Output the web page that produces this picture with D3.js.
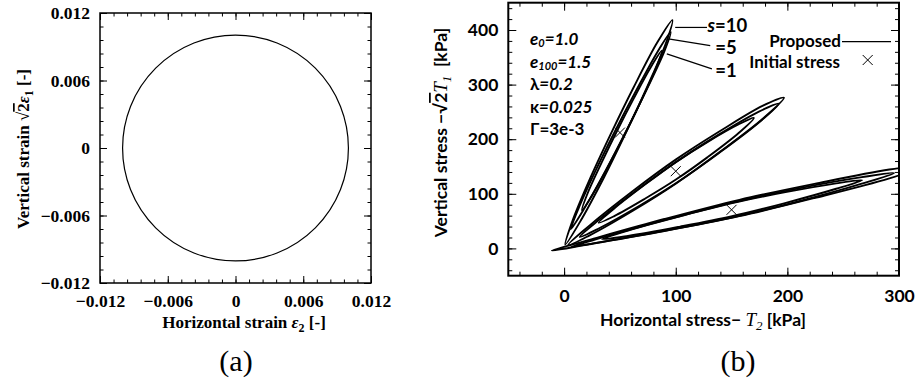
<!DOCTYPE html>
<html><head><meta charset="utf-8">
<script src="https://cdn.jsdelivr.net/npm/d3@7"></script>
<style>
body{margin:0;background:#fff;}
svg{display:block;}
</style></head><body>
<svg id="c" width="918" height="385"></svg>
<script>
// ---------------- data ----------------
// panel (a): strain path
const strainTicks = [-0.012, -0.006, 0, 0.006, 0.012];
const strainTickLabels = ["\u22120.012", "\u22120.006", "0", "0.006", "0.012"];
const strainCircleCenter = [0, 0];
const strainCircleRadius = 0.01;

// panel (b): stress paths
const stressXTicks = [0, 100, 200, 300];
const stressYTicks = [0, 100, 200, 300, 400];
const initialStress = [[50, 212.1], [100, 141.4], [150, 70.7]];
const loopLabels = ["10", "=5", "=1"];
const paramLines = ["e0=1.0", "e100=1.5", "\u03bb=0.2", "\u03ba=0.025", "\u0393=3e-3"];

// steep group (initial stress 50, 212)
const loopSteepS10 = [[1,7],[7.1,48.1],[23.8,130.3],[42.5,212.5],[62.2,294.7],[83.4,376.9],[97,418],[91.4,376.9],[74.2,294.7],[55.5,212.5],[35.8,130.3],[14.1,48.1]];
const loopSteepS5  = [[6,35],[12.5,71.1],[28.4,143.3],[45.8,215.5],[64.2,287.7],[83.6,359.9],[95.5,396],[89.6,359.9],[73.2,287.7],[55.8,215.5],[37.4,143.3],[17.5,71.1]];
const loopSteepS1  = [[16,70],[20.7,99.2],[33.7,157.6],[47.6,216],[62.3,274.4],[77.9,332.8],[87.5,362],[82.9,332.8],[69.9,274.4],[56,216],[41.3,157.6],[25.7,99.2]];
// middle group (initial stress 100, 141)
const loopMidS10 = [[3.6,6],[22.9,42],[61.6,105],[100.3,163],[139,214],[177.7,261],[197,276],[177.7,237],[139,176],[100.3,119],[61.6,69],[22.9,24]];
const loopMidS5  = [[14,21],[31.8,53.4],[67.5,110.2],[103.2,162.5],[138.8,208.8],[174.5,250.6],[192.3,265],[174.5,230.6],[138.8,174.8],[103.2,123.5],[67.5,78.2],[31.8,37.4]];
const loopMidS1  = [[31,47],[44.9,73.1],[72.7,117.3],[100.5,158.5],[128.3,194.7],[156.1,226.9],[170,239],[156.1,210.9],[128.3,166.7],[100.5,126.5],[72.7,91.3],[44.9,59.1]];
// flat group (initial stress 150, 71)
const loopFlatS10 = [[-11,-4],[22.6,15.6],[89.8,53.8],[157,89],[224.2,118.2],[291.4,144.4],[325,152],[291.4,128.4],[224.2,92.2],[157,59],[89.8,31.8],[22.6,7.6]];
const loopFlatS5  = [[6.6,3],[35.5,20.5],[93.3,53.5],[151.1,84],[208.9,109.5],[266.7,130.5],[295.6,138],[266.7,118.5],[208.9,85.5],[151.1,57],[93.3,33.5],[35.5,12.5]];
const loopFlatS1  = [[34,17],[57.3,32.8],[103.9,58.9],[150.5,83],[197.1,102.6],[243.7,119.2],[267,125],[243.7,109.2],[197.1,82.6],[150.5,59],[103.9,39.9],[57.3,22.8]];

const allLoops = [loopSteepS10, loopSteepS5, loopSteepS1, loopMidS10, loopMidS5, loopMidS1, loopFlatS10, loopFlatS5, loopFlatS1];

// ---------------- drawing ----------------
const svg = d3.select("#c");
const serif = "'Liberation Serif','DejaVu Serif',serif";
const sans = "Lato,'Open Sans','Noto Sans',sans-serif";

function frameTicks(g, x, y, majX, majY, minX, minY, len, minLen) {
  const [x0, x1] = x.range(); const [y0, y1] = y.range();
  const mk = (axis, tr, vals, l) => {
    const a = g.append("g").attr("transform", tr)
      .call(axis.tickValues(vals).tickFormat("").tickSizeInner(-l).tickSizeOuter(0));
    a.select(".domain").remove();
    a.selectAll("line").attr("stroke", "#000").attr("stroke-width", 1);
  };
  mk(d3.axisBottom(x), `translate(0,${y0})`, majX, len);
  mk(d3.axisBottom(x), `translate(0,${y0})`, minX, minLen);
  mk(d3.axisTop(x), `translate(0,${y1})`, majX, len);
  mk(d3.axisTop(x), `translate(0,${y1})`, minX, minLen);
  mk(d3.axisLeft(y), `translate(${x0},0)`, majY, len);
  mk(d3.axisLeft(y), `translate(${x0},0)`, minY, minLen);
  mk(d3.axisRight(y), `translate(${x1},0)`, majY, len);
  mk(d3.axisRight(y), `translate(${x1},0)`, minY, minLen);
}

// ---- Panel (a)
const ax = d3.scaleLinear().domain([-0.012, 0.012]).range([100, 371]);
const ay = d3.scaleLinear().domain([-0.012, 0.012]).range([283, 13]);
const gA = svg.append("g");
const minorA = d3.range(-10, 11).map(i => +(i * 0.0012).toFixed(5));
frameTicks(gA, ax, ay, strainTicks, strainTicks, minorA, minorA, 7, 3.5);

gA.append("rect").attr("x", ax(-0.012)).attr("y", ay(0.012))
  .attr("width", ax(0.012) - ax(-0.012)).attr("height", ay(-0.012) - ay(0.012))
  .attr("fill", "none").attr("stroke", "#000").attr("stroke-width", 1.5);

gA.append("circle").attr("cx", ax(strainCircleCenter[0])).attr("cy", ay(strainCircleCenter[1]))
  .attr("r", ax(strainCircleRadius) - ax(0))
  .attr("fill", "none").attr("stroke", "#000").attr("stroke-width", 1.2);

const axBot = gA.append("g").attr("transform", "translate(0,283)")
  .call(d3.axisBottom(ax).tickValues(strainTicks).tickFormat((d, i) => strainTickLabels[i]).tickSize(0).tickPadding(12));
const axLeft = gA.append("g").attr("transform", "translate(100,0)")
  .call(d3.axisLeft(ay).tickValues(strainTicks).tickFormat((d, i) => strainTickLabels[i]).tickSize(0).tickPadding(10));
[axBot, axLeft].forEach(a => {
  a.select(".domain").remove();
  a.selectAll("text").attr("font-family", serif).attr("font-size", 17.5).attr("font-weight", "bold").attr("fill", "#000");
});

const tA = gA.append("text").attr("x", 244).attr("y", 328).attr("text-anchor", "middle")
  .attr("font-family", serif).attr("font-size", 17).attr("font-weight", "bold");
tA.append("tspan").text("Horizontal strain ");
tA.append("tspan").attr("font-style", "italic").text("\u03b5");
tA.append("tspan").attr("font-size", 12).attr("dy", 4).text("2");
tA.append("tspan").attr("dy", -4).text(" [-]");

const tAy = gA.append("text").attr("transform", "translate(29,149) rotate(-90)").attr("text-anchor", "middle")
  .attr("font-family", serif).attr("font-size", 17).attr("font-weight", "bold");
tAy.append("tspan").text("Vertical strain \u221a");
tAy.append("tspan").attr("text-decoration", "overline").text("2");
tAy.append("tspan").attr("font-style", "italic").text("\u03b5");
tAy.append("tspan").attr("font-size", 12).attr("dy", 4).text("1");
tAy.append("tspan").attr("dy", -4).text(" [-]");

gA.append("text").attr("x", 236).attr("y", 371).attr("text-anchor", "middle")
  .attr("font-family", serif).attr("font-size", 30).text("(a)");

// ---- Panel (b)
const bx = d3.scaleLinear().domain([-50, 300]).range([508.3, 899]);
const by = d3.scaleLinear().domain([-50, 450]).range([275.7, 2.7]);
const gB = svg.append("g");
const minorBX = d3.range(-2, 16).map(i => i * 20);
const minorBY = d3.range(-2, 23).map(i => i * 20);
frameTicks(gB, bx, by, stressXTicks, stressYTicks, minorBX, minorBY, 8, 4);

svg.append("clipPath").attr("id", "clipB").append("rect")
  .attr("x", bx(-50)).attr("y", by(450)).attr("width", bx(300) - bx(-50)).attr("height", by(-50) - by(450));

const line = d3.line().x(d => bx(d[0])).y(d => by(d[1])).curve(d3.curveCatmullRomClosed.alpha(0.5));
gB.append("g").attr("clip-path", "url(#clipB)").selectAll("path").data(allLoops).join("path")
  .attr("d", line).attr("fill", "none").attr("stroke", "#000").attr("stroke-width", 1.9);

const xMark = "M-5,-5L5,5M-5,5L5,-5";
gB.selectAll("path.init").data(initialStress).join("path").attr("class", "init")
  .attr("d", xMark).attr("transform", d => `translate(${bx(d[0])},${by(d[1])})`)
  .attr("stroke", "#000").attr("stroke-width", 1).attr("fill", "none");

gB.append("rect").attr("x", bx(-50)).attr("y", by(450))
  .attr("width", bx(300) - bx(-50)).attr("height", by(-50) - by(450))
  .attr("fill", "none").attr("stroke", "#000").attr("stroke-width", 2);

const bxAx = gB.append("g").attr("transform", `translate(0,${by(-50)})`)
  .call(d3.axisBottom(bx).tickValues(stressXTicks).tickSize(0).tickPadding(14));
const byAx = gB.append("g").attr("transform", `translate(${bx(-50)},0)`)
  .call(d3.axisLeft(by).tickValues(stressYTicks).tickSize(0).tickPadding(10));
[bxAx, byAx].forEach(a => {
  a.select(".domain").remove();
  a.selectAll("text").attr("font-family", sans).attr("font-size", 17.5).attr("font-weight", "bold").attr("fill", "#000");
});

const tB = gB.append("text").attr("x", 703).attr("y", 326).attr("text-anchor", "middle")
  .attr("font-family", sans).attr("font-size", 17.5).attr("font-weight", "bold");
tB.append("tspan").text("Horizontal stress\u2212 ");
tB.append("tspan").attr("font-family", serif).attr("font-style", "italic").attr("font-weight", "normal").attr("font-size", 19).text("T");
tB.append("tspan").attr("font-family", serif).attr("font-style", "italic").attr("font-weight", "normal").attr("font-size", 13).attr("dy", 4).text("2");
tB.append("tspan").attr("dy", -4).text(" [kPa]");

const tBy = gB.append("text").attr("transform", "translate(447,132.5) rotate(-90)").attr("text-anchor", "middle")
  .attr("font-family", sans).attr("font-size", 17.5).attr("font-weight", "bold");
tBy.append("tspan").text("Vertical stress \u2212\u221a");
tBy.append("tspan").attr("text-decoration", "overline").text("2");
tBy.append("tspan").attr("font-family", serif).attr("font-style", "italic").attr("font-weight", "normal").attr("font-size", 19).text("T");
tBy.append("tspan").attr("font-family", serif).attr("font-style", "italic").attr("font-weight", "normal").attr("font-size", 13).attr("dy", 4).text("1");
tBy.append("tspan").attr("dy", -4).text("\u00a0\u00a0[kPa]");

// parameter block
const pBlock = gB.append("g").attr("font-family", sans).attr("font-size", 17).attr("font-weight", "bold");
const pY = [45, 67.5, 90, 112.5, 135];
paramLines.forEach((s, i) => {
  const t = pBlock.append("text").attr("x", 530).attr("y", pY[i]);
  if (i < 2) {
    const sub = s.slice(1, s.indexOf("="));
    t.append("tspan").attr("font-style", "italic").text("e");
    t.append("tspan").attr("font-style", "italic").attr("font-size", 11).attr("dy", 2).text(sub);
    t.append("tspan").attr("font-style", "italic").attr("dy", -2).text(s.slice(s.indexOf("=")));
  } else if (i < 4) {
    t.append("tspan").text(s[0]);
    t.append("tspan").attr("font-style", "italic").text(s.slice(1));
  } else {
    t.text(s);
  }
});

// s labels with leaders (annotation layout, data coordinates)
const leaders = [[[99.5, 404.7], [128, 404.7]], [[93.4, 383.6], [130.9, 371.3]], [[92, 356.2], [132.4, 328.8]]];
gB.selectAll("line.lead").data(leaders).join("line").attr("class", "lead")
  .attr("x1", d => bx(d[0][0])).attr("y1", d => by(d[0][1]))
  .attr("x2", d => bx(d[1][0])).attr("y2", d => by(d[1][1]))
  .attr("stroke", "#000").attr("stroke-width", 1.2);
const labPos = [[128.5, 395.5], [135.4, 356], [135.4, 313.4]];
loopLabels.forEach((s, i) => {
  const t = gB.append("text").attr("x", bx(labPos[i][0])).attr("y", by(labPos[i][1]))
    .attr("font-family", sans).attr("font-size", 18.5).attr("font-weight", "bold");
  if (i === 0) {
    t.append("tspan").attr("font-style", "italic").text("s");
    t.append("tspan").text("=" + s);
  } else t.text(s);
});

// legend
const leg = gB.append("g").attr("font-family", sans).attr("font-size", 17).attr("font-weight", "bold");
leg.append("text").attr("x", 841).attr("y", 46.5).attr("text-anchor", "end").text("Proposed");
leg.append("line").attr("x1", 842).attr("x2", 891).attr("y1", 41.7).attr("y2", 41.7).attr("stroke", "#000").attr("stroke-width", 1.2);
leg.append("text").attr("x", 840).attr("y", 67.5).attr("text-anchor", "end").text("Initial stress");
leg.append("path").attr("d", xMark).attr("transform", "translate(867.7,60)").attr("stroke", "#000").attr("fill", "none");

gB.append("text").attr("x", 738).attr("y", 371).attr("text-anchor", "middle")
  .attr("font-family", serif).attr("font-size", 30).text("(b)");
</script>
</body></html>
